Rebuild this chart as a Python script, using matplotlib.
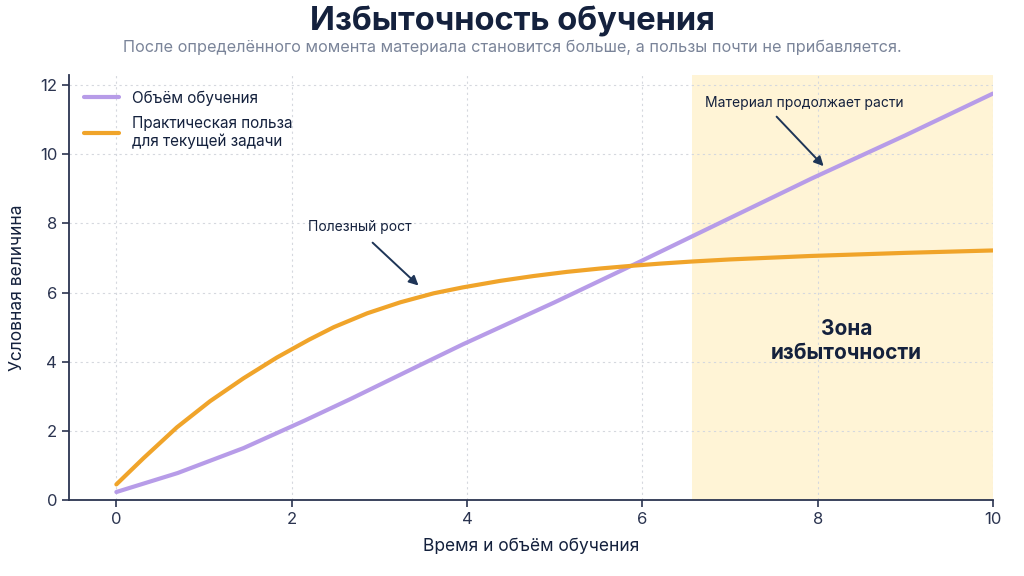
import matplotlib
matplotlib.use("Agg")
import matplotlib.pyplot as plt

plt.rcParams['font.family'] = ['Inter', 'DejaVu Sans']

# данные
x_volume = [0, 0.7, 1.45, 2.15, 2.67, 3.3, 3.95, 5.0, 5.96, 6.57, 7.93, 9.0, 10]
volume = [0.23, 0.78, 1.5, 2.3, 2.92, 3.7, 4.5, 5.72, 6.88, 7.63, 9.3, 10.55, 11.76]

x_benefit = [0, 0.31, 0.69, 1.07, 1.45, 1.83, 2.2, 2.48, 2.86, 3.24, 3.62,
             3.95, 4.38, 4.76, 5.14, 5.53, 5.9, 6.21, 6.57, 7.0, 7.92, 9.0, 10]
benefit = [0.45, 1.21, 2.1, 2.86, 3.52, 4.12, 4.64, 5.0, 5.4, 5.72, 5.98,
           6.15, 6.34, 6.48, 6.6, 6.7, 6.78, 6.84, 6.9, 6.96, 7.06, 7.15, 7.22]

zone_start = 6.57
zone_end = 10

navy = '#14213D'
tick_col = '#2B3450'
purple = '#B79CE8'
orange = '#F0A42A'

fig = plt.figure(figsize=(10.24, 5.76), dpi=100)
ax = fig.add_axes([0.0674, 0.132, 0.9023, 0.738])

ax.axvspan(zone_start, zone_end, color='#FFF4D6', zorder=0, lw=0)

ax.plot(x_volume, volume, color=purple, lw=3, label='Объём обучения', zorder=3,
        solid_capstyle='round', solid_joinstyle='round')
ax.plot(x_benefit, benefit, color=orange, lw=3,
        label='Практическая польза\nдля текущей задачи', zorder=3,
        solid_capstyle='round', solid_joinstyle='round')

ax.set_xlim(-0.54, 10)
ax.set_ylim(0, 12.3)
ax.set_xticks([0, 2, 4, 6, 8, 10])
ax.set_yticks([0, 2, 4, 6, 8, 10, 12])
ax.grid(True, color='#D5D8DE', ls=(0, (2, 3)), lw=0.8, zorder=1)

for side in ['top', 'right']:
    ax.spines[side].set_visible(False)
for side in ['left', 'bottom']:
    ax.spines[side].set_color(tick_col)
    ax.spines[side].set_linewidth(1.3)
ax.tick_params(colors=tick_col, labelsize=12, length=5, width=1.2)

ax.set_xlabel('Время и объём обучения', fontsize=12.5, color=navy, labelpad=8)
ax.set_ylabel('Условная величина', fontsize=12.5, color=navy, labelpad=10)

leg = ax.legend(loc='upper left', frameon=False, fontsize=11,
                handlelength=2.3, borderaxespad=0.6, labelspacing=0.7,
                bbox_to_anchor=(0.0, 1.0))
for t in leg.get_texts():
    t.set_color(navy)
for h in leg.get_lines():
    h.set_solid_capstyle('round')

ax.text(2.19, 7.9, 'Полезный рост', fontsize=10, color=navy, va='center')
ax.annotate('', xy=(3.47, 6.15), xytext=(2.9, 7.5),
            arrowprops=dict(arrowstyle='-|>', color='#1E3557', lw=1.4,
                            mutation_scale=14))

ax.text(6.72, 11.5, 'Материал продолжает расти', fontsize=10, color=navy,
        va='center')
ax.annotate('', xy=(8.09, 9.6), xytext=(7.51, 11.15),
            arrowprops=dict(arrowstyle='-|>', color='#1E3557', lw=1.4,
                            mutation_scale=14))

ax.text(8.33, 4.6, 'Зона\nизбыточности', fontsize=15, fontweight='bold',
        color=navy, ha='center', va='center', linespacing=1.2)

fig.text(0.5, 0.962, 'Избыточность обучения', fontsize=23.5, fontweight='bold',
         color=navy, ha='center', va='center')
fig.text(0.5, 0.918,
         'После определённого момента материала становится больше, а пользы почти не прибавляется.',
         fontsize=11.7, color='#7A8499', ha='center', va='center')

fig.savefig('out.png', dpi=100)
